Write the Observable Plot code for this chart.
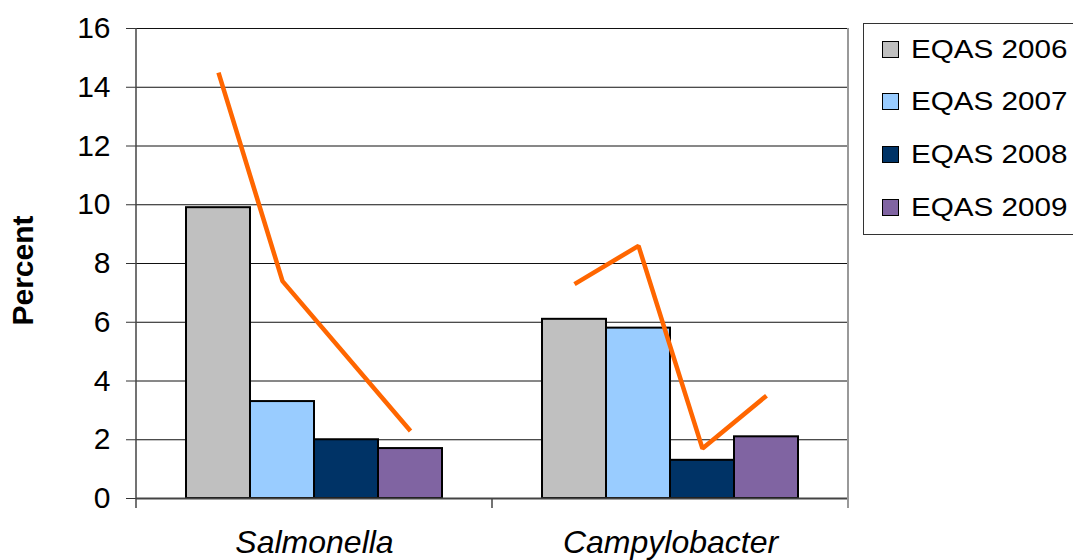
<!DOCTYPE html>
<html>
<head>
<meta charset="utf-8">
<script src="https://cdn.jsdelivr.net/npm/d3@7"></script>
<script src="https://cdn.jsdelivr.net/npm/@observablehq/plot@0.6"></script>
<style>
  html, body { margin: 0; padding: 0; background: #fff; overflow: hidden; }
  #wrap { position: relative; width: 1073px; height: 560px; overflow: hidden; font-family: "Liberation Sans", Arial, sans-serif; }
  #wrap svg { font-family: "Liberation Sans", Arial, sans-serif; }
  [aria-label="fx-axis tick label"] text { font-style: italic; }
  #legend { position: absolute; left: 863px; top: 23px; width: 240px; height: 212px; border: 1px solid #333; box-sizing: border-box; background: #fff; }
  .item { position: absolute; left: 18px; height: 30px; display: flex; align-items: center; font-size: 26px; color: #000; white-space: nowrap; }
  .item span { display: inline-block; transform: scaleX(1.14); transform-origin: left center; }
  .sw { width: 15px; height: 15px; border: 1.5px solid #000; margin-right: 12px; }
</style>
</head>
<body>
<div id="wrap"></div>
<script>
const categories = ["Salmonella", "Campylobacter"];
const years = ["EQAS 2006", "EQAS 2007", "EQAS 2008", "EQAS 2009"];
const salmonellaBars = [9.9, 3.3, 2.0, 1.7];
const campylobacterBars = [6.1, 5.8, 1.3, 2.1];
const salmonellaLine = [14.5, 7.4, null, 2.3];
const campylobacterLine = [7.3, 8.6, 1.7, 3.5];
const yTicks = [0, 2, 4, 6, 8, 10, 12, 14, 16];
const colors = ["#C0C0C0", "#99CCFF", "#003366", "#8064A2"];

const barSeries = [salmonellaBars, campylobacterBars];
const lineSeries = [salmonellaLine, campylobacterLine];
const bars = categories.flatMap((c, i) => years.map((y, j) => ({category: c, year: y, value: barSeries[i][j]})));
const lineData = categories.flatMap((c, i) => years.map((y, j) => ({category: c, year: y, value: lineSeries[i][j]})))
  .filter(d => d.value != null);

const plot = Plot.plot({
  width: 1073,
  height: 560,
  marginLeft: 136,
  marginRight: 225,
  marginTop: 28,
  marginBottom: 62,
  style: {fontFamily: '"Liberation Sans", Arial, sans-serif', background: "#fff"},
  fx: {domain: categories, padding: 0, label: null},
  x: {domain: years, paddingInner: 0, paddingOuter: 0.74, axis: null},
  y: {domain: [0, 16]},
  color: {domain: years, range: colors},
  marks: [
    Plot.ruleY(yTicks.filter(d => d > 0), {stroke: "#111", strokeWidth: 1}),
    Plot.barY(bars, {fx: "category", x: "year", y: "value", fill: "year", stroke: "#000", strokeWidth: 2}),
    Plot.ruleY([0], {stroke: "#444", strokeWidth: 2}),
    Plot.line(lineData, {fx: "category", x: "year", y: "value", stroke: "#FF6600", strokeWidth: 4.5, strokeLinejoin: "miter", strokeLinecap: "butt"}),
    Plot.axisY({ticks: yTicks, tickSize: 10, tickPadding: 16, fontSize: 30, label: null, stroke: "#333", color: "#000"}),
    Plot.axisFx({anchor: "bottom", tickSize: 0, tickPadding: 32, fontSize: 32, label: null, color: "#000"}),
    Plot.text(["Percent"], {fx: () => categories[0], frameAnchor: "left", textAnchor: "middle", rotate: -90, dx: -113, dy: 7, fontSize: 30, fontWeight: "bold", fill: "#000"})
  ]
});

// Category boundary ticks and side lines, positioned from the library's own scales
const fx = plot.scale("fx");
const ys = plot.scale("y");
const y0 = ys.apply(0), yTop = ys.apply(16);
const svg = d3.select(plot);
const edges = categories.map(c => fx.apply(c)).concat([fx.apply(categories[categories.length - 1]) + fx.bandwidth]);
const g = svg.append("g");
edges.forEach((x, i) => {
  if (i === 0) {
    g.append("line").attr("x1", x).attr("x2", x).attr("y1", yTop).attr("y2", y0 + 10).attr("stroke", "#444").attr("stroke-width", 1.5);
  } else if (i === edges.length - 1) {
    g.append("line").attr("x1", x).attr("x2", x).attr("y1", yTop).attr("y2", y0 + 10).attr("stroke", "#999").attr("stroke-width", 2);
  } else {
    g.append("line").attr("x1", x).attr("x2", x).attr("y1", y0).attr("y2", y0 + 10).attr("stroke", "#444").attr("stroke-width", 1.5);
  }
});

const wrap = document.getElementById("wrap");
wrap.appendChild(plot);

const legend = document.createElement("div");
legend.id = "legend";
years.forEach((y, i) => {
  const item = document.createElement("div");
  item.className = "item";
  item.style.top = (10 + i * 52.7) + "px";
  const sw = document.createElement("div");
  sw.className = "sw";
  sw.style.background = colors[i];
  const t = document.createElement("span");
  t.textContent = y;
  item.appendChild(sw);
  item.appendChild(t);
  legend.appendChild(item);
});
wrap.appendChild(legend);
</script>
</body>
</html>
